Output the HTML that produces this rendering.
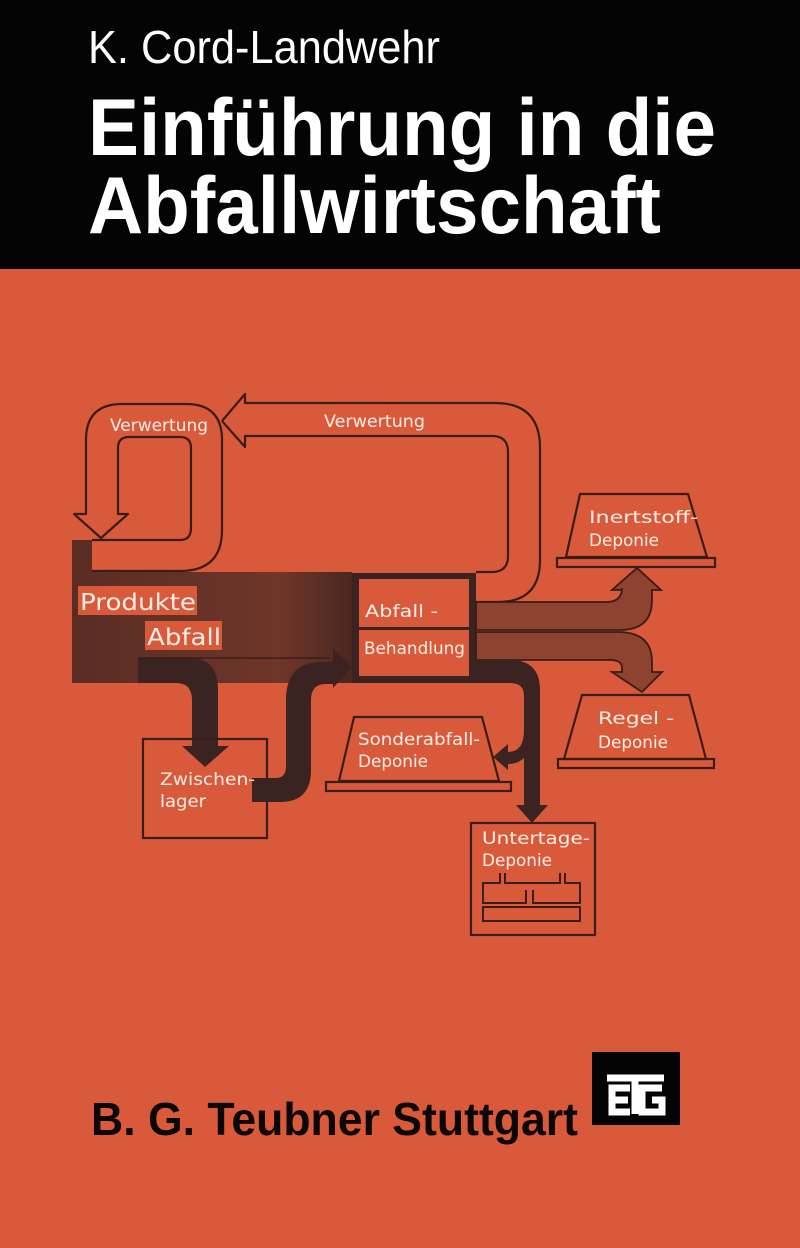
<!DOCTYPE html>
<html><head><meta charset="utf-8"><style>
html,body{margin:0;padding:0;background:#d85a3b;}
svg{display:block;}
</style></head><body>
<svg width="800" height="1248" viewBox="0 0 800 1248" xmlns="http://www.w3.org/2000/svg">
<defs>
<linearGradient id="band" x1="0" y1="0" x2="1" y2="0">
<stop offset="0" stop-color="#5a2c24"/><stop offset="0.75" stop-color="#6e3629"/><stop offset="1" stop-color="#4a2720"/>
</linearGradient>
</defs>
<rect width="800" height="1248" fill="#d85a3b"/>
<rect width="800" height="269" fill="#050404"/>
<g font-family="'Liberation Sans', Arial, sans-serif" font-weight="bold" fill="#fff">
<text x="88" y="63" font-size="46" font-weight="normal" textLength="352" lengthAdjust="spacingAndGlyphs">K. Cord-Landwehr</text>
<text x="88" y="155" font-size="81" textLength="628" lengthAdjust="spacingAndGlyphs">Einführung in die</text>
<text x="88" y="233" font-size="81" textLength="573" lengthAdjust="spacingAndGlyphs">Abfallwirtschaft</text>
</g>

<g fill="none" stroke="#3a1d17" stroke-width="2.2" stroke-linejoin="round">
<path d="M92,571 H180 Q222,571 222,530 V440 Q222,404 186,404 H122 Q86,404 86,440 V514 H74 L101,538 L128,514 H118 V448 Q118,437 129,437 H180 Q191,437 191,448 V528 Q191,540 180,540 H92"/>
<path d="M222,421 L245,394 V403 H495 Q540,403 540,448 V560 Q540,602 498,602 H476"/>
<path d="M222,421 L245,447 V436 H492 Q508,436 508,452 V556 Q508,572 492,572 H476"/>
</g>

<path d="M72,540 H92 V572 H352 V683 H72 Z" fill="url(#band)"/>
<path d="M138,658 H190 Q218,658 218,690 V746 H229 L205,767 L182,746 H192 V700 Q192,683 176,683 H138 Z" fill="#3a2320"/>
<rect x="143" y="739" width="124" height="99" fill="none" stroke="#3a1d17" stroke-width="2.2"/>
<path d="M252,778 H276 Q286,778 286,766 V700 Q286,662 322,662 H333 V648 L352,667 L333,688 V684 H326 Q311,684 311,700 V770 Q311,802 280,802 H252 Z" fill="#3a2320"/>
<line x1="138" y1="658" x2="330" y2="658" stroke="#3a1d17" stroke-width="1.5"/>

<rect x="352" y="573" width="124" height="110" fill="#3a2320"/>
<rect x="359" y="579" width="110" height="97" fill="#d85a3b"/>
<rect x="359" y="627" width="110" height="3" fill="#3a2320"/>

<path d="M476,602 H606 Q622,602 622,588 V590 H612 L637,568 L661,590 H652 V600 Q652,630 620,630 H476 Z" fill="#8e4331" stroke="#3a1d17" stroke-width="1.8"/>
<path d="M476,632 H618 Q652,632 652,662 V672 H662 L642,692 L612,672 H622 V668 Q622,660 610,660 H476 Z" fill="#8e4331" stroke="#3a1d17" stroke-width="1.8"/>

<path d="M476,660 H510 Q540,660 540,690 V805 H548 L532,823 L516,805 H524 V696 Q524,683 510,683 H476 Z" fill="#3a2320"/>
<path d="M524,730 Q524,752 508,752 V744 L493,757 L508,770 V764 Q530,764 532,735 Z" fill="#3a2320"/>

<g fill="none" stroke="#3a1d17" stroke-width="2.2">
<path d="M580,494 H688 L707,557 H566 Z"/>
<rect x="557" y="558" width="158" height="9"/>
<path d="M354,717 H482 L499,781 H339 Z"/>
<rect x="326" y="782" width="185" height="9"/>
<path d="M582,695 H689 L706,759 H564 Z"/>
<rect x="558" y="759" width="156" height="9"/>
<rect x="471" y="823" width="124" height="112"/>
<g stroke-width="2">
<path d="M500,873 V883 H483 V903 H526 V890 M505,873 V883 H560 V873 M565,873 V883 H580 V903 H533 V890"/>
<rect x="483" y="907" width="97" height="14"/>
</g>
</g>

<g font-family="'DejaVu Sans', 'Liberation Sans', sans-serif" fill="#fbeee6" font-size="17">
<text x="110" y="431" textLength="98" lengthAdjust="spacingAndGlyphs">Verwertung</text>
<text x="324" y="427" textLength="101" lengthAdjust="spacingAndGlyphs">Verwertung</text>
<text x="365" y="617" textLength="73" lengthAdjust="spacingAndGlyphs">Abfall -</text>
<text x="364" y="654" textLength="101" lengthAdjust="spacingAndGlyphs">Behandlung</text>
<text x="589" y="523" textLength="109" lengthAdjust="spacingAndGlyphs">Inertstoff-</text>
<text x="589" y="546" textLength="70" lengthAdjust="spacingAndGlyphs">Deponie</text>
<text x="598" y="724" textLength="76" lengthAdjust="spacingAndGlyphs">Regel -</text>
<text x="598" y="748" textLength="70" lengthAdjust="spacingAndGlyphs">Deponie</text>
<text x="358" y="745" textLength="122" lengthAdjust="spacingAndGlyphs">Sonderabfall-</text>
<text x="358" y="767" textLength="70" lengthAdjust="spacingAndGlyphs">Deponie</text>
<text x="160" y="785" textLength="95" lengthAdjust="spacingAndGlyphs">Zwischen-</text>
<text x="160" y="807" textLength="46" lengthAdjust="spacingAndGlyphs">lager</text>
<text x="482" y="844" textLength="108" lengthAdjust="spacingAndGlyphs">Untertage-</text>
<text x="482" y="866" textLength="70" lengthAdjust="spacingAndGlyphs">Deponie</text>
</g>
<rect x="78" y="586" width="119" height="29" fill="#d9593b"/>
<rect x="145" y="621" width="77" height="29" fill="#d9593b"/>
<g font-family="'DejaVu Sans', 'Liberation Sans', sans-serif" fill="#fbeee6" font-size="23">
<text x="80" y="610" textLength="116" lengthAdjust="spacingAndGlyphs">Produkte</text>
<text x="147" y="645" textLength="74" lengthAdjust="spacingAndGlyphs">Abfall</text>
</g>

<text x="91" y="1135" font-family="'Liberation Sans', Arial, sans-serif" font-weight="bold" font-size="46" fill="#0a0706" textLength="487" lengthAdjust="spacingAndGlyphs">B. G. Teubner Stuttgart</text>
<rect x="592" y="1052" width="88" height="73" fill="#050404"/>
<g fill="none" stroke="#fff" stroke-width="7">
<path d="M607,1078 H664 M635,1078 V1114"/>
<path d="M630,1088 H612 V1112 H630 M612,1100 H628"/>
<path d="M662,1088 H642 V1112 H662 V1100 H652"/>
</g>
</svg>
</body></html>
